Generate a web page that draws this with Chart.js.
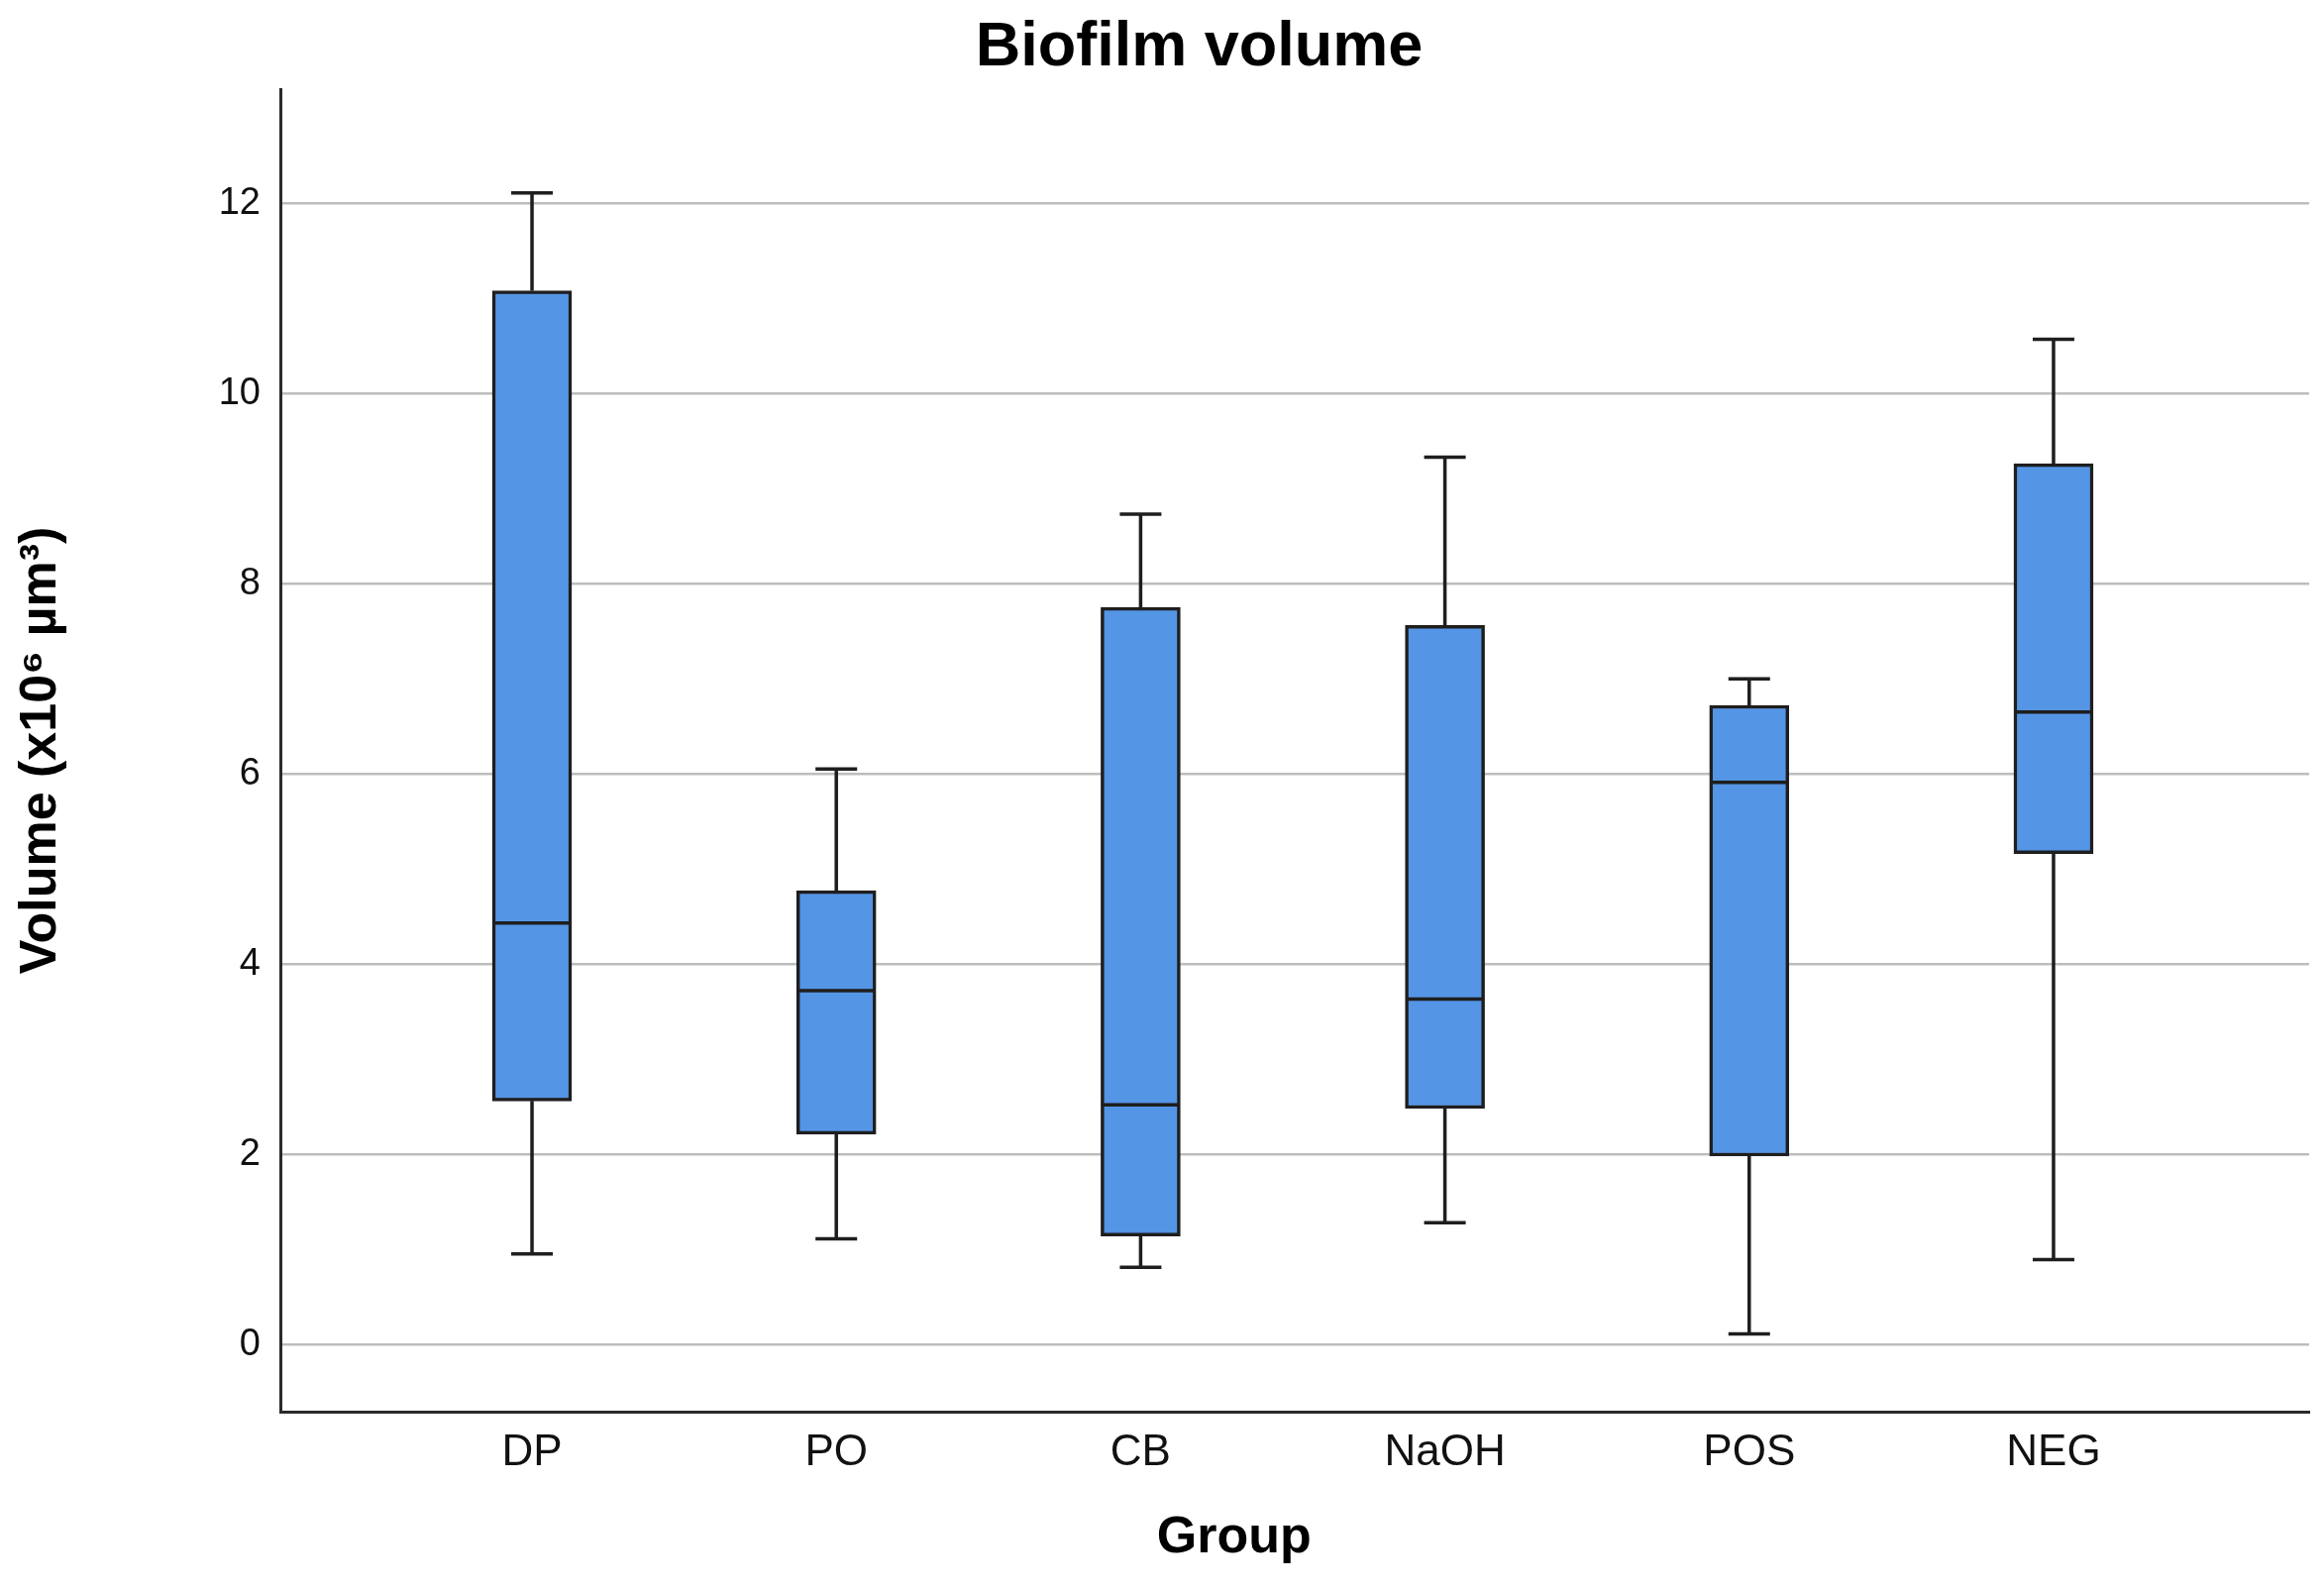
<!DOCTYPE html>
<html>
<head>
<meta charset="utf-8">
<title>Biofilm volume</title>
<script src="https://cdn.jsdelivr.net/npm/chart.js@4.4.1/dist/chart.umd.min.js"></script>
<style>
    body { margin: 0; background: #fff; }
    #wrap { width: 2346px; height: 1604px; }
</style>
</head>
<body>
<div id="wrap"><canvas id="myChart" width="2346" height="1604"></canvas></div>
<script>
// Data (x10^6 µm³)
const categories = ['DP', 'PO', 'CB', 'NaOH', 'POS', 'NEG'];
const mins    = [0.95, 1.11, 0.81, 1.28, 0.11, 0.89];
const q1s     = [2.56, 2.21, 1.14, 2.48, 1.98, 5.16];
const medians = [4.43, 3.72, 2.52, 3.63, 5.91, 6.65];
const q3s     = [11.08, 4.77, 7.75, 7.56, 6.72, 9.26];
const maxs    = [12.11, 6.05, 8.73, 9.33, 7.00, 10.57];
const yTicks  = [0, 2, 4, 6, 8, 10, 12];

const chartTitle = 'Biofilm volume';
const xTitle = 'Group';
const yTitle = 'Volume (x10\u2076 \u00b5m\u00b3)';

const FONT = "'Liberation Sans', Arial, Helvetica, sans-serif";
const LINE = '#1e1e1e';

// Vẽ whisker, cap và đường median cho từng hộp
const whiskerPlugin = {
    id: 'whiskers',
    afterDatasetsDraw(chart) {
        const ctx = chart.ctx;
        const xs = chart.scales.x;
        const ys = chart.scales.y;
        const capHalf = 21;
        const boxHalf = 39.5;
        ctx.save();
        ctx.strokeStyle = LINE;
        ctx.lineWidth = 3.5;
        ctx.lineCap = 'butt';
        categories.forEach((c, i) => {
            const x = xs.getPixelForValue(i);
            ctx.beginPath();
            // upper whisker
            ctx.moveTo(x, ys.getPixelForValue(q3s[i]));
            ctx.lineTo(x, ys.getPixelForValue(maxs[i]));
            ctx.moveTo(x - capHalf, ys.getPixelForValue(maxs[i]));
            ctx.lineTo(x + capHalf, ys.getPixelForValue(maxs[i]));
            // lower whisker
            ctx.moveTo(x, ys.getPixelForValue(q1s[i]));
            ctx.lineTo(x, ys.getPixelForValue(mins[i]));
            ctx.moveTo(x - capHalf, ys.getPixelForValue(mins[i]));
            ctx.lineTo(x + capHalf, ys.getPixelForValue(mins[i]));
            // median
            ctx.moveTo(x - boxHalf, ys.getPixelForValue(medians[i]));
            ctx.lineTo(x + boxHalf, ys.getPixelForValue(medians[i]));
            ctx.stroke();
        });
        ctx.restore();
    }
};

// Tiêu đề chính và tiêu đề trục x
const titlesPlugin = {
    id: 'titles',
    afterDraw(chart) {
        const ctx = chart.ctx;
        ctx.save();
        ctx.fillStyle = '#000';
        ctx.textAlign = 'center';
        ctx.textBaseline = 'middle';
        ctx.font = 'bold 63px ' + FONT;
        ctx.fillText(chartTitle, chart.width * 0.516, 49);
        ctx.font = 'bold 52px ' + FONT;
        ctx.fillText(xTitle, chart.width * 0.531, 1553);
        ctx.restore();
    }
};

const ctx = document.getElementById('myChart').getContext('2d');
new Chart(ctx, {
    type: 'bar',
    data: {
        datasets: [{
            label: 'Volume',
            data: categories.map((c, i) => ({ x: i, y: [q1s[i], q3s[i]] })),
            backgroundColor: '#5495e5',
            borderColor: LINE,
            borderWidth: 3.5,
            borderSkipped: false,
            barThickness: 80
        }]
    },
    options: {
        responsive: false,
        animation: false,
        devicePixelRatio: 1,
        layout: { padding: { top: 90, right: 15, left: 0, bottom: 0 } },
        plugins: {
            legend: { display: false },
            tooltip: { enabled: false },
            title: { display: false }
        },
        scales: {
            x: {
                type: 'linear',
                offset: false,
                min: -0.827,
                max: 5.84,
                grid: { display: false, drawTicks: false },
                border: { display: true, color: '#2a2a2a', width: 3 },
                ticks: {
                    stepSize: 1,
                    includeBounds: false,
                    padding: 15,
                    color: '#111',
                    font: { family: FONT, size: 44 },
                    callback: value => categories[value] !== undefined ? categories[value] : ''
                },
                afterFit: scale => { scale.height = 179; }
            },
            y: {
                min: -0.708,
                max: 13.2,
                grid: { color: '#bdbdbd', lineWidth: 2.5, drawTicks: false },
                border: { display: true, color: '#2a2a2a', width: 3 },
                ticks: {
                    stepSize: 2,
                    includeBounds: false,
                    padding: 20,
                    color: '#111',
                    font: { family: FONT, size: 38 },
                    callback: value => yTicks.includes(value) ? value : ''
                },
                title: {
                    display: true,
                    text: yTitle,
                    color: '#000',
                    padding: { top: 10, bottom: 0 },
                    font: { family: FONT, size: 52, weight: 'bold' }
                },
                afterFit: scale => { scale.width = 283; }
            }
        }
    },
    plugins: [whiskerPlugin, titlesPlugin]
});
</script>
</body>
</html>
